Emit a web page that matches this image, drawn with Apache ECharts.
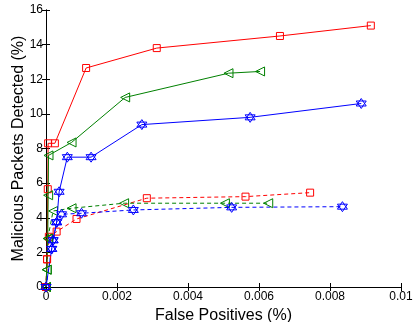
<!DOCTYPE html>
<html><head><meta charset="utf-8">
<script src="https://cdn.jsdelivr.net/npm/echarts@6/dist/echarts.min.js"></script>
<style>html,body{margin:0;padding:0;background:#fff}#c{width:413px;height:322px}</style>
</head><body><div id="c"></div>
<script>
var xTicks = [0, 0.002, 0.004, 0.006, 0.008, 0.01];
var yTicks = [0, 2, 4, 6, 8, 10, 12, 14, 16];

var redSolidX = [0, 0.00003, 0.00005, 0.00006, 0.00025, 0.00113, 0.00312, 0.00659, 0.00915];
var redSolidY = [0, 1.6, 5.65, 8.3, 8.3, 12.65, 13.8, 14.5, 15.1];
var greenSolidX = [0, 0.00002, 0.00005, 0.00006, 0.00007, 0.00072, 0.00223, 0.00514, 0.00603];
var greenSolidY = [0, 1.0, 2.8, 5.3, 7.6, 8.35, 10.95, 12.35, 12.45];
var blueSolidX = [0, 0.00016, 0.0002, 0.0003, 0.00037, 0.0006, 0.00127, 0.0027, 0.00575, 0.00888];
var blueSolidY = [0, 2.2, 2.7, 3.74, 5.5, 7.5, 7.5, 9.38, 9.8, 10.6];

var redDashX = [0, 0.00003, 0.00008, 0.0003, 0.00086, 0.00284, 0.00562, 0.00744];
var redDashY = [0, 1.6, 2.9, 3.2, 3.93, 5.13, 5.22, 5.45];
var greenDashX = [0, 0.00002, 0.00005, 0.0002, 0.00072, 0.0022, 0.00504, 0.00626];
var greenDashY = [0, 1.0, 2.8, 4.39, 4.55, 4.84, 4.84, 4.84];
var blueDashX = [0, 0.00016, 0.0002, 0.0003, 0.00044, 0.001, 0.00246, 0.00523, 0.00835];
var blueDashY = [0, 2.2, 2.7, 3.74, 4.2, 4.26, 4.45, 4.6, 4.64];

var hexPath = 'path://M0,-10L8.66,5L-8.66,5Z M0,10L8.66,-5L-8.66,-5Z';

function pts(xs, ys) { return xs.map(function (x, i) { return [x, ys[i]]; }); }

function mk(xs, ys, color, dashed, symbol, size, rot) {
  return {
    type: 'line', data: pts(xs, ys), symbol: symbol, symbolSize: size, symbolRotate: rot || 0,
    showAllSymbol: true, animation: false, z: dashed ? 2 : 3,
    lineStyle: { color: color, width: 1, type: dashed ? [4, 3] : 'solid' },
    itemStyle: { color: 'rgba(0,0,0,0)', borderColor: color, borderWidth: 1 }
  };
}

var font = 'Liberation Sans, Arial, Helvetica, sans-serif';
var chart = echarts.init(document.getElementById('c'), null, { renderer: 'canvas' });
chart.setOption({
  backgroundColor: '#fff',
  grid: { left: 46, right: 12, top: 10, bottom: 35, containLabel: false, outerBoundsMode: 'none' },
  xAxis: [{
    type: 'value', min: xTicks[0], max: xTicks[xTicks.length - 1], interval: 0.002,
    name: 'False Positives (%)', nameLocation: 'middle', nameGap: 21, nameMoveOverlap: false,
    nameTextStyle: { fontFamily: font, fontSize: 16, color: '#000' },
    axisLine: { lineStyle: { color: '#000', width: 1 } },
    axisTick: { inside: true, length: 4, lineStyle: { color: '#000' } },
    axisLabel: { fontFamily: font, fontSize: 12, color: '#000', margin: 4,
      formatter: function (v) { return String(+v.toFixed(3)); } },
    splitLine: { show: false }
  }, {
    type: 'value', position: 'top', min: xTicks[0], max: xTicks[xTicks.length - 1], interval: 0.002,
    axisLine: { lineStyle: { color: '#000', width: 1 } },
    axisTick: { inside: true, length: 4, lineStyle: { color: '#000' } },
    axisLabel: { show: false }, splitLine: { show: false }
  }],
  yAxis: [{
    type: 'value', min: yTicks[0], max: yTicks[yTicks.length - 1], interval: 2,
    name: 'Malicious Packets Detected (%)', nameLocation: 'middle', nameGap: 19, nameMoveOverlap: false,
    nameTextStyle: { fontFamily: font, fontSize: 16, color: '#000' },
    axisLine: { lineStyle: { color: '#000', width: 1 } },
    axisTick: { inside: true, length: 4, lineStyle: { color: '#000' } },
    axisLabel: { fontFamily: font, fontSize: 12, color: '#000', margin: 3 },
    splitLine: { show: false }
  }, {
    type: 'value', position: 'right', min: yTicks[0], max: yTicks[yTicks.length - 1], interval: 2,
    axisLine: { lineStyle: { color: '#000', width: 1 } },
    axisTick: { inside: true, length: 4, lineStyle: { color: '#000' } },
    axisLabel: { show: false }, splitLine: { show: false }
  }],
  series: [
    mk(redDashX, redDashY, '#ff0000', true, 'rect', 7),
    mk(greenDashX, greenDashY, '#008000', true, 'triangle', 9, 90),
    mk(blueDashX, blueDashY, '#0000ff', true, hexPath, 10),
    mk(redSolidX, redSolidY, '#ff0000', false, 'rect', 7),
    mk(greenSolidX, greenSolidY, '#008000', false, 'triangle', 9, 90),
    mk(blueSolidX, blueSolidY, '#0000ff', false, hexPath, 10)
  ]
});
</script></body></html>
